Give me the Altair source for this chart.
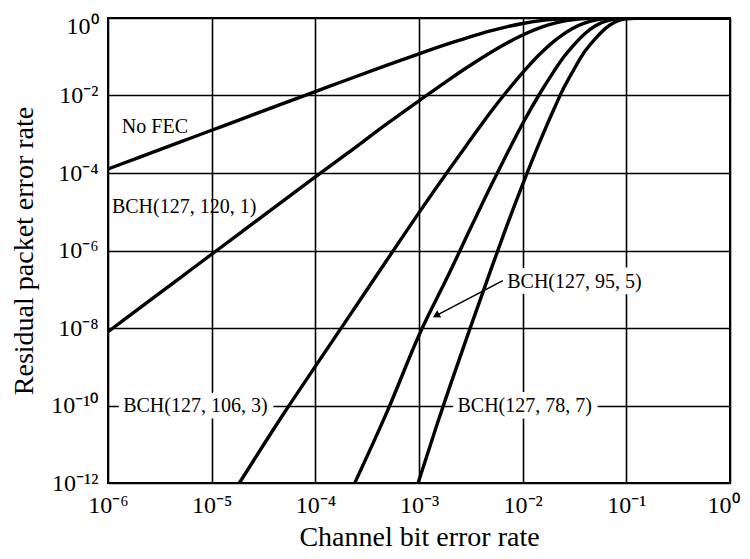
import altair as alt
import pandas as pd

# ---------------- data ----------------
# No FEC
nofec_ber = [1e-6, 2e-6, 5e-6, 1e-5, 2e-5, 5e-5, 1e-4, 2e-4, 5e-4, 1e-3, 2e-3, 3e-3,
             5e-3, 7e-3, 1e-2, 1.5e-2, 2e-2, 2.5e-2, 3e-2, 4e-2, 5e-2, 7e-2, 1e-1, 1e0]
nofec_per = [1.27e-4, 2.54e-4, 6.35e-4, 1.27e-3, 2.54e-3, 6.33e-3, 1.26e-2, 2.51e-2,
             6.15e-2, 0.119, 0.224, 0.317, 0.471, 0.590, 0.721, 0.853, 0.923, 0.960,
             0.979, 0.994, 0.9985, 1.0, 1.0, 1.0]

# BCH(127, 120, 1)
bch1_ber = [1e-6, 2e-6, 5e-6, 1e-5, 2e-5, 5e-5, 1e-4, 2e-4, 5e-4, 1e-3, 2e-3, 3e-3,
            5e-3, 7e-3, 1e-2, 1.5e-2, 2e-2, 2.5e-2, 3e-2, 4e-2, 5e-2, 7e-2, 1e-1, 1e0]
bch1_per = [8.0e-9, 3.2e-8, 2.0e-7, 8.0e-7, 3.2e-6, 2.0e-5, 7.9e-5, 3.1e-4, 1.93e-3,
            7.3e-3, 0.027, 0.056, 0.133, 0.223, 0.363, 0.570, 0.724, 0.829, 0.897,
            0.965, 0.989, 0.999, 1.0, 1.0]

# BCH(127, 106, 3)
bch3_ber = [1.85e-5, 5e-5, 1e-4, 2e-4, 5e-4, 1e-3, 2e-3, 3e-3, 5e-3, 7e-3, 1e-2,
            1.5e-2, 2e-2, 2.5e-2, 3e-2, 4e-2, 5e-2, 7e-2, 1e-1, 1e0]
bch3_per = [1.0e-12, 6.4e-11, 1.02e-9, 1.6e-8, 6.1e-7, 9.5e-6, 1.35e-4,
            6.1e-4, 4.0e-3, 0.0125, 0.039, 0.125, 0.250, 0.39, 0.531, 0.75, 0.884,
            0.980, 0.999, 1.0]

# BCH(127, 95, 5)
bch5_ber = [2.4e-4, 5e-4, 1e-3, 2e-3, 3e-3, 5e-3, 7e-3, 1e-2, 1.5e-2, 2e-2,
            2.5e-2, 3e-2, 4e-2, 5e-2, 7e-2, 1e-1, 1e0]
bch5_per = [1.0e-12, 7.6e-11, 6.5e-9, 2.9e-7, 2.9e-6, 5.0e-5, 3.0e-4,
            1.9e-3, 0.0125, 0.042, 0.10, 0.18, 0.40, 0.62, 0.89, 0.99, 1.0]

# BCH(127, 78, 7)
bch7_ber = [9.8e-4, 1.5e-3, 2e-3, 3e-3, 5e-3, 7e-3, 1e-2, 1.5e-2, 2e-2, 2.5e-2, 3e-2,
            4e-2, 5e-2, 7e-2, 1e-1, 1.5e-1, 1e0]
bch7_per = [1.0e-12, 3.4e-11, 3.3e-10, 7.5e-9, 3.5e-7, 4.2e-6, 5.1e-5, 7.5e-4, 4.4e-3,
            0.016, 0.039, 0.14, 0.29, 0.67, 0.95, 0.999, 1.0]

x_ticks = [1e-6, 1e-5, 1e-4, 1e-3, 1e-2, 1e-1, 1e0]
y_ticks = [1e-12, 1e-10, 1e-8, 1e-6, 1e-4, 1e-2, 1e0]

# curve labels
plain_text = ["No FEC", "BCH(127, 120, 1)"]
plain_x = [1.36e-6, 1.09e-6]
plain_y = [1.55e-3, 1.35e-5]

halo_text = ["BCH(127, 106, 3)", "BCH(127, 95, 5)", "BCH(127, 78, 7)"]
halo_x = [1.40e-6, 7.1e-3, 2.35e-3]
halo_y = [1.0e-10, 1.5e-7, 1.0e-10]

# arrow for BCH(127, 95, 5): tail then head
arrow_x = [6.44e-3, 1.46e-3]
arrow_y = [1.67e-7, 2.09e-8]

# ---------------- build tables ----------------
series = [
    ("No FEC", nofec_ber, nofec_per),
    ("BCH(127, 120, 1)", bch1_ber, bch1_per),
    ("BCH(127, 106, 3)", bch3_ber, bch3_per),
    ("BCH(127, 95, 5)", bch5_ber, bch5_per),
    ("BCH(127, 78, 7)", bch7_ber, bch7_per),
]
df = pd.DataFrame(
    [{"curve": n, "ber": b, "per": p} for n, bs, ps in series for b, p in zip(bs, ps)]
)
plain_df = pd.DataFrame({"label": plain_text, "ber": plain_x, "per": plain_y})
halo_df = pd.DataFrame({"label": halo_text, "ber": halo_x, "per": halo_y})
arrow_df = pd.DataFrame({"ber": arrow_x, "per": arrow_y, "order": [0, 1]})
head_df = arrow_df.iloc[[1]]

FONT = "Liberation Serif"
sup = ("['10\u2070','10\u207b\u00b9','10\u207b\u00b2','10\u207b\u00b3','10\u207b\u2074',"
       "'10\u207b\u2075','10\u207b\u2076','10\u207b\u2077','10\u207b\u2078','10\u207b\u2079',"
       "'10\u207b\u00b9\u2070','10\u207b\u00b9\u00b9','10\u207b\u00b9\u00b2']"
       "[round(-log(datum.value)/LN10)]")

xscale = alt.Scale(type="log", domain=[1e-6, 1], nice=False)
yscale = alt.Scale(type="log", domain=[1e-12, 1], nice=False)

common_axis = dict(
    grid=True, gridColor="black", gridWidth=1.6, gridOpacity=1,
    ticks=False, domain=False, labelFont=FONT, labelFontSize=24, labelColor="black",
    labelExpr=sup, labelOverlap=False, labelFlush=False,
    titleFont=FONT, titleFontSize=28, titleFontWeight="normal", titleColor="black",
)

x_enc = alt.X("ber:Q", scale=xscale,
              axis=alt.Axis(values=x_ticks, title="Channel bit error rate",
                            labelPadding=10, titlePadding=6,
                            labelAlign={"condition": {"test": "datum.value >= 1", "value": "right"},
                                        "value": "center"},
                            labelOffset={"condition": {"test": "datum.value >= 1", "value": 9},
                                         "value": 0},
                            **common_axis))
y_enc = alt.Y("per:Q", scale=yscale,
              axis=alt.Axis(values=y_ticks, title="Residual packet error rate",
                            labelPadding=10, titlePadding=12,
                            labelBaseline={"condition": {"test": "datum.value >= 1", "value": "top"},
                                           "value": "middle"},
                            labelOffset={"condition": {"test": "datum.value >= 1", "value": -4},
                                         "value": 0},
                            **common_axis))

halo = alt.Chart(halo_df).mark_text(
    font=FONT, fontSize=20, align="left", baseline="middle",
    fill="white", stroke="white", strokeWidth=13, strokeJoin="round"
).encode(x=alt.X("ber:Q", scale=xscale), y=alt.Y("per:Q", scale=yscale), text="label:N")

lines = alt.Chart(df).mark_line(
    color="black", strokeWidth=3.4, interpolate="monotone", clip=True
).encode(x=x_enc, y=y_enc, detail="curve:N")

arrow = alt.Chart(arrow_df).mark_line(color="black", strokeWidth=1.6).encode(
    x=alt.X("ber:Q", scale=xscale), y=alt.Y("per:Q", scale=yscale), order="order:O")

head = alt.Chart(head_df).mark_point(
    shape="triangle-up", filled=True, color="black", size=70, angle=242, opacity=1
).encode(x=alt.X("ber:Q", scale=xscale), y=alt.Y("per:Q", scale=yscale))

text_plain = alt.Chart(plain_df).mark_text(
    font=FONT, fontSize=20, align="left", baseline="middle", color="black"
).encode(x=alt.X("ber:Q", scale=xscale), y=alt.Y("per:Q", scale=yscale), text="label:N")

text_halo = alt.Chart(halo_df).mark_text(
    font=FONT, fontSize=20, align="left", baseline="middle", color="black"
).encode(x=alt.X("ber:Q", scale=xscale), y=alt.Y("per:Q", scale=yscale), text="label:N")

chart = alt.layer(halo, lines, arrow, head, text_plain, text_halo).properties(
    width=622, height=465,
    padding={"left": 100, "top": 10, "right": 12, "bottom": 68},
    autosize=alt.AutoSizeParams(type="none"),
    background="white",
).configure_view(stroke="black", strokeWidth=2)

chart.save("out.html", embed_options={"renderer": "svg", "actions": False})
